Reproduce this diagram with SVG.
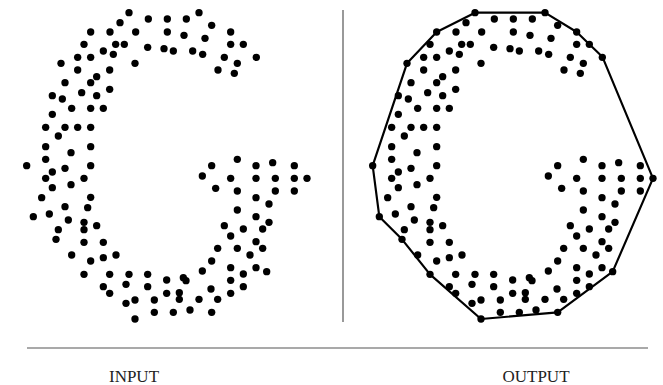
<svg xmlns="http://www.w3.org/2000/svg" width="663" height="385" viewBox="0 0 663 385">
<style>
.pt{fill:#000}
.hull{fill:none;stroke:#000;stroke-width:6.5;stroke-linejoin:round}
.rule{stroke:#555;stroke-width:1.2}
.lbl{font-family:"Liberation Serif",serif;font-size:17px;fill:#222;text-anchor:middle}
</style>
<defs>
<g id="pts" class="pt">
<circle cx="345" cy="38" r="11"/><circle cx="555" cy="38" r="11"/><circle cx="403" cy="57" r="11"/><circle cx="460" cy="57" r="11"/><circle cx="517" cy="57" r="11"/><circle cx="318" cy="68" r="11"/><circle cx="593" cy="76" r="11"/><circle cx="230" cy="96" r="11"/><circle cx="288" cy="96" r="11"/><circle cx="365" cy="96" r="11"/><circle cx="460" cy="96" r="11"/><circle cx="510" cy="106" r="11"/><circle cx="573" cy="115" r="11"/><circle cx="650" cy="96" r="11"/><circle cx="210" cy="133" r="11"/><circle cx="305" cy="133" r="11"/><circle cx="331" cy="133" r="11"/><circle cx="401" cy="142" r="11"/><circle cx="450" cy="146" r="11"/><circle cx="478" cy="153" r="11"/><circle cx="536" cy="153" r="11"/><circle cx="566" cy="163" r="11"/><circle cx="650" cy="133" r="11"/><circle cx="688" cy="133" r="11"/><circle cx="268" cy="153" r="11"/><circle cx="298" cy="163" r="11"/><circle cx="191" cy="172" r="11"/><circle cx="230" cy="172" r="11"/><circle cx="631" cy="172" r="11"/><circle cx="727" cy="172" r="11"/><circle cx="141" cy="190" r="11"/><circle cx="363" cy="190" r="11"/><circle cx="670" cy="190" r="11"/><circle cx="191" cy="210" r="11"/><circle cx="287" cy="210" r="11"/><circle cx="612" cy="210" r="11"/><circle cx="661" cy="220" r="11"/><circle cx="248" cy="230" r="11"/><circle cx="230" cy="248" r="11"/><circle cx="153" cy="248" r="11"/><circle cx="287" cy="268" r="11"/><circle cx="203" cy="278" r="11"/><circle cx="248" cy="287" r="11"/><circle cx="115" cy="287" r="11"/><circle cx="145" cy="297" r="11"/><circle cx="173" cy="325" r="11"/><circle cx="230" cy="325" r="11"/><circle cx="268" cy="325" r="11"/><circle cx="115" cy="343" r="11"/><circle cx="95" cy="382" r="11"/><circle cx="153" cy="382" r="11"/><circle cx="191" cy="382" r="11"/><circle cx="230" cy="382" r="11"/><circle cx="133" cy="408" r="11"/><circle cx="95" cy="440" r="11"/><circle cx="230" cy="440" r="11"/><circle cx="171" cy="458" r="11"/><circle cx="95" cy="478" r="11"/><circle cx="38" cy="497" r="11"/><circle cx="230" cy="497" r="11"/><circle cx="153" cy="505" r="11"/><circle cx="115" cy="516" r="11"/><circle cx="95" cy="535" r="11"/><circle cx="210" cy="535" r="11"/><circle cx="115" cy="563" r="11"/><circle cx="171" cy="554" r="11"/><circle cx="83" cy="593" r="11"/><circle cx="230" cy="592" r="11"/><circle cx="153" cy="620" r="11"/><circle cx="221" cy="623" r="11"/><circle cx="58" cy="650" r="11"/><circle cx="106" cy="642" r="11"/><circle cx="163" cy="660" r="11"/><circle cx="210" cy="667" r="11"/><circle cx="210" cy="689" r="11"/><circle cx="248" cy="677" r="11"/><circle cx="133" cy="689" r="11"/><circle cx="126" cy="718" r="11"/><circle cx="210" cy="727" r="11"/><circle cx="268" cy="727" r="11"/><circle cx="173" cy="765" r="11"/><circle cx="230" cy="783" r="11"/><circle cx="268" cy="773" r="11"/><circle cx="306" cy="765" r="11"/><circle cx="210" cy="823" r="11"/><circle cx="287" cy="823" r="11"/><circle cx="345" cy="823" r="11"/><circle cx="401" cy="823" r="11"/><circle cx="268" cy="860" r="11"/><circle cx="336" cy="853" r="11"/><circle cx="401" cy="860" r="11"/><circle cx="287" cy="880" r="11"/><circle cx="336" cy="910" r="11"/><circle cx="363" cy="900" r="11"/><circle cx="421" cy="900" r="11"/><circle cx="363" cy="957" r="11"/><circle cx="421" cy="937" r="11"/>
<circle cx="593" cy="497" r="11"/><circle cx="670" cy="478" r="11"/><circle cx="565" cy="528" r="11"/><circle cx="650" cy="535" r="11"/><circle cx="726" cy="497" r="11"/><circle cx="776" cy="488" r="11"/><circle cx="841" cy="497" r="11"/><circle cx="726" cy="535" r="11"/><circle cx="784" cy="535" r="11"/><circle cx="841" cy="535" r="11"/><circle cx="879" cy="535" r="11"/><circle cx="605" cy="565" r="11"/><circle cx="670" cy="573" r="11"/><circle cx="784" cy="573" r="11"/><circle cx="841" cy="573" r="11"/><circle cx="726" cy="593" r="11"/><circle cx="765" cy="612" r="11"/><circle cx="670" cy="630" r="11"/><circle cx="726" cy="650" r="11"/><circle cx="765" cy="667" r="11"/><circle cx="631" cy="677" r="11"/><circle cx="688" cy="687" r="11"/><circle cx="746" cy="687" r="11"/><circle cx="650" cy="708" r="11"/><circle cx="726" cy="725" r="11"/><circle cx="746" cy="745" r="11"/><circle cx="611" cy="745" r="11"/><circle cx="670" cy="745" r="11"/><circle cx="708" cy="765" r="11"/><circle cx="593" cy="783" r="11"/><circle cx="565" cy="813" r="11"/><circle cx="650" cy="803" r="11"/><circle cx="688" cy="822" r="11"/><circle cx="726" cy="803" r="11"/><circle cx="758" cy="815" r="11"/><circle cx="458" cy="840" r="11"/><circle cx="508" cy="833" r="11"/><circle cx="516" cy="842" r="11"/><circle cx="591" cy="867" r="11"/><circle cx="650" cy="841" r="11"/><circle cx="688" cy="860" r="11"/><circle cx="458" cy="880" r="11"/><circle cx="496" cy="878" r="11"/><circle cx="496" cy="898" r="11"/><circle cx="555" cy="898" r="11"/><circle cx="611" cy="898" r="11"/><circle cx="650" cy="880" r="11"/><circle cx="478" cy="937" r="11"/><circle cx="528" cy="930" r="11"/><circle cx="593" cy="937" r="11"/>
</g>
</defs>
<rect width="663" height="385" fill="#fff"/>
<g id="input-points" transform="translate(14,0) scale(0.33333)">
<use href="#pts"/>
</g>
<g id="output-points" transform="translate(360,0) scale(0.33333)">
<use href="#pts"/>
<polygon class="hull" points="345,38 555,38 650,96 688,133 727,170 879,535 758,815 593,937 363,957 210,823 126,718 58,650 38,497 141,190 230,96"/>
</g>
<g id="rules">
<line class="rule" x1="343" y1="10" x2="343" y2="322"/>
<line class="rule" x1="27" y1="348" x2="648" y2="348"/>
</g>
<text class="lbl" x="134" y="382">INPUT</text>
<text class="lbl" x="536" y="382">OUTPUT</text>
</svg>
